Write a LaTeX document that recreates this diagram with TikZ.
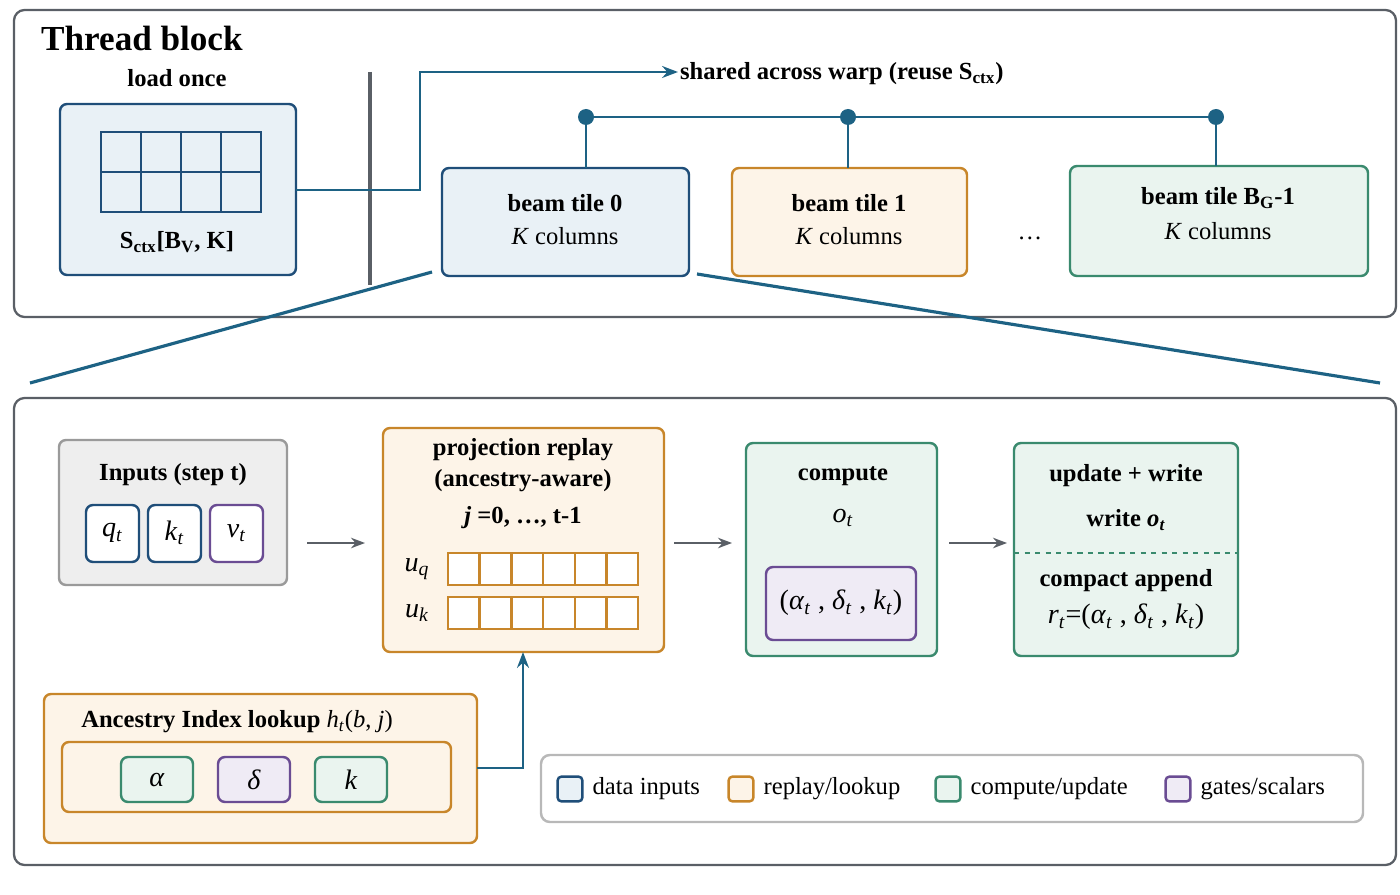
\documentclass[tikz,border=0pt]{standalone}
\usepackage{fontspec}
\setmainfont{Liberation Serif}
\usetikzlibrary{calc, positioning, arrows.meta}
\definecolor{bblue}{HTML}{1F4E79}\definecolor{fblue}{HTML}{E9F1F6}
\definecolor{borange}{HTML}{C8862A}\definecolor{forange}{HTML}{FDF4E8}
\definecolor{bgreen}{HTML}{3A8A6E}\definecolor{fgreen}{HTML}{EAF4EF}
\definecolor{bpurple}{HTML}{6A4C93}\definecolor{fpurple}{HTML}{EFEBF5}
\definecolor{bgray}{HTML}{9A9A9A}\definecolor{fgray}{HTML}{EEEEEE}
\definecolor{teal}{HTML}{1D6284}\definecolor{frame}{HTML}{5A5F66}
\newcommand{\iv}[2]{\textit{#1}\textsubscript{\textit{#2}}}
\tikzset{
  panel/.style={draw=frame, line width=1.3pt, rounded corners=6pt},
  blk/.style={line width=1.4pt, rounded corners=4pt},
  blue/.style={blk, draw=bblue, fill=fblue},
  orange/.style={blk, draw=borange, fill=forange},
  green/.style={blk, draw=bgreen, fill=fgreen},
  purple/.style={blk, draw=bpurple, fill=fpurple},
  grey/.style={blk, draw=bgray, fill=fgray},
  txt/.style={font=\fontsize{14}{16}\selectfont, inner sep=1pt},
  btxt/.style={txt, font=\fontsize{14}{16}\selectfont\bfseries},
  mtxt/.style={font=\fontsize{16}{18}\selectfont, inner sep=1pt},
  flow/.style={-{Stealth[length=8pt]}, draw=frame, line width=1pt},
  tflow/.style={-{Stealth[length=9pt]}, draw=teal, line width=1.5pt},
  legbox/.style={draw=#1, line width=1.4pt, rounded corners=2pt, minimum size=14pt, inner sep=0pt}
}
\begin{document}
\begin{tikzpicture}[x=0.02cm, y=-0.02cm]
  \useasboundingbox (0,0) rectangle (1400,895);
  % thread block panel
  \draw[panel] (14,10) rectangle (1396,317);
  \node[anchor=west, font=\fontsize{20}{22}\selectfont\bfseries] (title) at (35,38) {Thread block};
  \node[btxt] (once) at (177,78) {load once};
  \draw[blue] (60,104) rectangle (296,275);
  \coordinate (sctxout) at (296,190);
  \foreach \i in {1,2,3} \draw[bblue, line width=1.6pt] (101+\i*40,132) -- (101+\i*40,212);
  \draw[bblue, line width=1.6pt] (101,172) -- (261,172);
  \draw[bblue, line width=1.6pt] (101,132) rectangle (261,212);
  \node[btxt] (sctx) at (177,242) {S\textsubscript{ctx}[B\textsubscript{V}, K]};
  \draw[frame, line width=2.2pt] (370,72) -- (370,285);
  \node[anchor=west, btxt] (shared) at (678,74) {shared across warp (reuse S\textsubscript{ctx})};
  \draw[tflow] (sctxout) -- (420,190) -- (420,72) -- (shared.west |- 420,72);
  % beam tiles
  \draw[blue] (442,168) rectangle (689,276);
  \draw[orange] (732,168) rectangle (967,276);
  \draw[green] (1070,166) rectangle (1368,276);
  \foreach \x/\y/\name in {565/220/{beam tile 0}, 849/220/{beam tile 1}, 1218/215/{beam tile B\textsubscript{G}-1}}{
    \node[btxt] at (\x,\y-17) {\name};
    \node[txt] at (\x,\y+16) {\textit{K} columns};
  }
  \node[txt] (dots) at (1030,238) {\dots};
  \draw[teal, line width=1.5pt] (586,117) -- (1216,117);
  \foreach \x/\t in {586/168, 848/168, 1216/166}{
    \draw[teal, line width=1.2pt] (\x,117) -- (\x,\t);
    \fill[teal] (\x,117) circle (8);
  }
  % zoom lines
  \draw[teal, line width=1.8pt] (432,272) -- (30,383);
  \draw[teal, line width=1.8pt] (697,274) -- (1380,383);
  % detail panel
  \draw[panel] (14,398) rectangle (1396,865);
  \draw[grey] (59,440) rectangle (287,585);
  \node[btxt] (inputs) at (173,475) {Inputs (step t)};
  \foreach \x/\s/\a/\b in {86/blue/q/t, 148/blue/k/t, 210/purple/v/t}{
    \draw[\s, fill=white] (\x,505) rectangle (\x+53,562);
    \node[mtxt] at (\x+26.5,533) {\iv{\a}{\b}};
  }
  \draw[orange] (383,428) rectangle (664,652);
  \node[btxt] (proj) at (523,450) {projection replay};
  \node[btxt] (anc) at (523,481) {(ancestry-aware)};
  \node[btxt] (jrange) at (523,518) {\textit{j} =0, \dots, t-1};
  \foreach \y/\b in {553/q, 597/k}{
    \node[mtxt] at (417,\y+16) {\iv{u}{\b}};
    \draw[borange, fill=white, line width=1.4pt] (448,\y) rectangle (638,\y+32);
    \foreach \i in {1,...,5} \draw[borange, line width=1.4pt] (448+\i*31.7,\y) -- (448+\i*31.7,\y+32);
  }
  \draw[green] (746,443) rectangle (937,656);
  \node[btxt] (comp) at (843,476) {compute};
  \node[mtxt] (ot) at (843,518) {\iv{o}{t}};
  \draw[purple] (766,567) rectangle (916,640);
  \node[mtxt] (gates) at (841,603) {(\iv{α}{t} , \iv{δ}{t} , \iv{k}{t})};
  \draw[green] (1014,443) rectangle (1238,656);
  \node[btxt] (upd) at (1126,476) {update + write};
  \node[btxt] (wot) at (1126,520) {write \iv{o}{t}};
  \draw[bgreen, dashed, line width=1.2pt] (1014,553) -- (1238,553);
  \node[btxt] (cap) at (1126,581) {compact append};
  \node[mtxt] (rt) at (1126,617) {\iv{r}{t}=(\iv{α}{t} , \iv{δ}{t} , \iv{k}{t})};
  \coordinate (a1s) at (307,543); \coordinate (a1e) at (365,543);
  \coordinate (a2s) at (674,543); \coordinate (a2e) at (732,543);
  \coordinate (a3s) at (949,543); \coordinate (a3e) at (1007,543);
  \foreach \s/\e in {a1s/a1e, a2s/a2e, a3s/a3e} \draw[flow] (\s) -- (\e);
  % ancestry index
  \draw[orange] (44,694) rectangle (477,843);
  \node[btxt] (ancidx) at (237,722) {Ancestry Index lookup \normalfont\iv{h}{t}(\textit{b}, \textit{j})};
  \draw[orange] (62,742) rectangle (451,812);
  \foreach \x/\s/\l in {121/green/α, 218/purple/δ, 315/green/k}{
    \draw[\s] (\x,757) rectangle (\x+72,802);
    \node[mtxt] at (\x+36,780) {\textit{\l}};
  }
  \coordinate (ancout) at (477,768); \coordinate (projin) at (523,652);
  \draw[tflow] (ancout) -- (523,768) -- (projin);
  % legend
  \draw[draw=bgray!70, line width=1.4pt, rounded corners=5pt, fill=white] (541,755) rectangle (1363,822);
  \foreach \x/\c/\f/\l in {570/bblue/fblue/{data inputs}, 741/borange/forange/{replay/lookup}, 948/bgreen/fgreen/{compute/update}, 1178/bpurple/fpurple/{gates/scalars}}{
    \node[legbox=\c, fill=\f] (lg\x) at (\x,789) {};
    \node[txt, anchor=west, right=4pt of lg\x] {\l};
  }
\end{tikzpicture}
\end{document}
